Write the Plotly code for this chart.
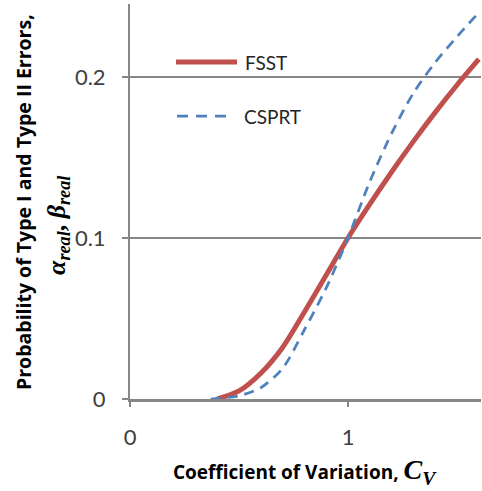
import plotly.graph_objects as go

# Coefficient of variation (x) and real error probabilities for each test
cv_fsst = [0.40, 0.50, 0.60, 0.70, 0.80, 0.90, 1.00, 1.10, 1.20, 1.30, 1.40, 1.50, 1.60]
err_fsst = [0.000, 0.005, 0.016, 0.032, 0.054, 0.077, 0.100, 0.121, 0.141, 0.160, 0.178, 0.195, 0.211]

cv_csprt = [0.37, 0.50, 0.60, 0.70, 0.80, 0.90, 1.00, 1.10, 1.20, 1.30, 1.40, 1.50, 1.60]
err_csprt = [0.000, 0.002, 0.007, 0.019, 0.043, 0.069, 0.100, 0.135, 0.165, 0.190, 0.209, 0.225, 0.240]

y_ticks = [0, 0.1, 0.2]
y_tick_text = ["0", "0.1", "0.2"]
x_ticks = [0, 1]
x_tick_text = ["0", "1"]

RED = "#C0504D"
BLUE = "#4F81BD"
AXIS = "#868686"
SANS = "Lato"
BOLD_SANS = "Open Sans"
SERIF = "Liberation Serif"

fig = go.Figure()
fig.add_trace(go.Scatter(
    x=cv_fsst, y=err_fsst, mode="lines", name="FSST",
    line=dict(color=RED, width=5, shape="spline", smoothing=0.8),
    showlegend=False,
))
fig.add_trace(go.Scatter(
    x=cv_csprt, y=err_csprt, mode="lines", name="CSPRT",
    line=dict(color=BLUE, width=2.75, dash="10px,7px", shape="spline", smoothing=0.8),
    showlegend=False,
))

# legend panel: white box hides the gridline behind it
shapes = [
    dict(type="rect", xref="paper", yref="paper", x0=0.004, x1=0.60, y0=0.58, y1=0.95,
         fillcolor="white", line=dict(width=0), layer="between"),
    dict(type="line", xref="paper", yref="paper", x0=0.131, x1=0.305, y0=0.853, y1=0.853,
         line=dict(color=RED, width=5)),
    dict(type="line", xref="paper", yref="paper", x0=0.134, x1=0.276, y0=0.716, y1=0.716,
         line=dict(color=BLUE, width=2.75, dash="11px,8px")),
]

annotations = [
    dict(text="FSST", xref="paper", yref="paper", x=0.322, y=0.853, xanchor="left",
         yanchor="middle", showarrow=False, font=dict(family=SANS, size=19, color="#262626")),
    dict(text="CSPRT", xref="paper", yref="paper", x=0.319, y=0.716, xanchor="left",
         yanchor="middle", showarrow=False, font=dict(family=SANS, size=19, color="#262626")),
    # y-axis title, two lines
    dict(text="<b>Probability of Type I and Type II Errors,</b>", xref="paper", yref="paper",
         x=(23 - 130) / 351, y=(399 - 202) / 395, xanchor="center", yanchor="middle",
         textangle=-90, showarrow=False, font=dict(family=BOLD_SANS, size=19.5, color="#000000")),
    dict(text="<b><i>α</i><sub><i>real</i></sub>, <i>β</i><sub><i>real</i></sub></b>",
         xref="paper", yref="paper",
         x=(58 - 130) / 351, y=(399 - 225) / 395, xanchor="center", yanchor="middle",
         textangle=-90, showarrow=False, font=dict(family=SERIF, size=26, color="#000000")),
    # x-axis title
    dict(text="<b>Coefficient of Variation, </b><span style='font-family:Liberation Serif;font-size:28px'><b><i>C</i></b><sub><b><i>V</i></b></sub></span>",
         xref="paper", yref="paper",
         x=(305 - 130) / 351, y=(399 - 471) / 395, xanchor="center", yanchor="middle",
         showarrow=False, font=dict(family=BOLD_SANS, size=19, color="#000000")),
]

fig.update_layout(
    width=482, height=491,
    margin=dict(l=130, r=1, t=4, b=92),
    paper_bgcolor="white", plot_bgcolor="white",
    showlegend=False,
    shapes=shapes,
    annotations=annotations,
    xaxis=dict(
        range=[0, 1.61], tickvals=x_ticks, ticktext=x_tick_text,
        showgrid=False, zeroline=False,
        showline=True, linecolor=AXIS, linewidth=2.5,
        ticks="outside", ticklen=5, tickwidth=2, tickcolor=AXIS,
        tickfont=dict(family=SANS, size=22, color="#404040"),
        ticklabelstandoff=12,
    ),
    yaxis=dict(
        range=[0, 0.2453], tickvals=y_ticks, ticktext=y_tick_text,
        showgrid=True, gridcolor=AXIS, gridwidth=1.5, zeroline=False,
        showline=True, linecolor=AXIS, linewidth=2,
        ticks="outside", ticklen=6, tickwidth=2, tickcolor=AXIS,
        tickfont=dict(family=SANS, size=22, color="#404040"),
        ticklabelstandoff=12,
    ),
)

fig.write_html("out.html")
